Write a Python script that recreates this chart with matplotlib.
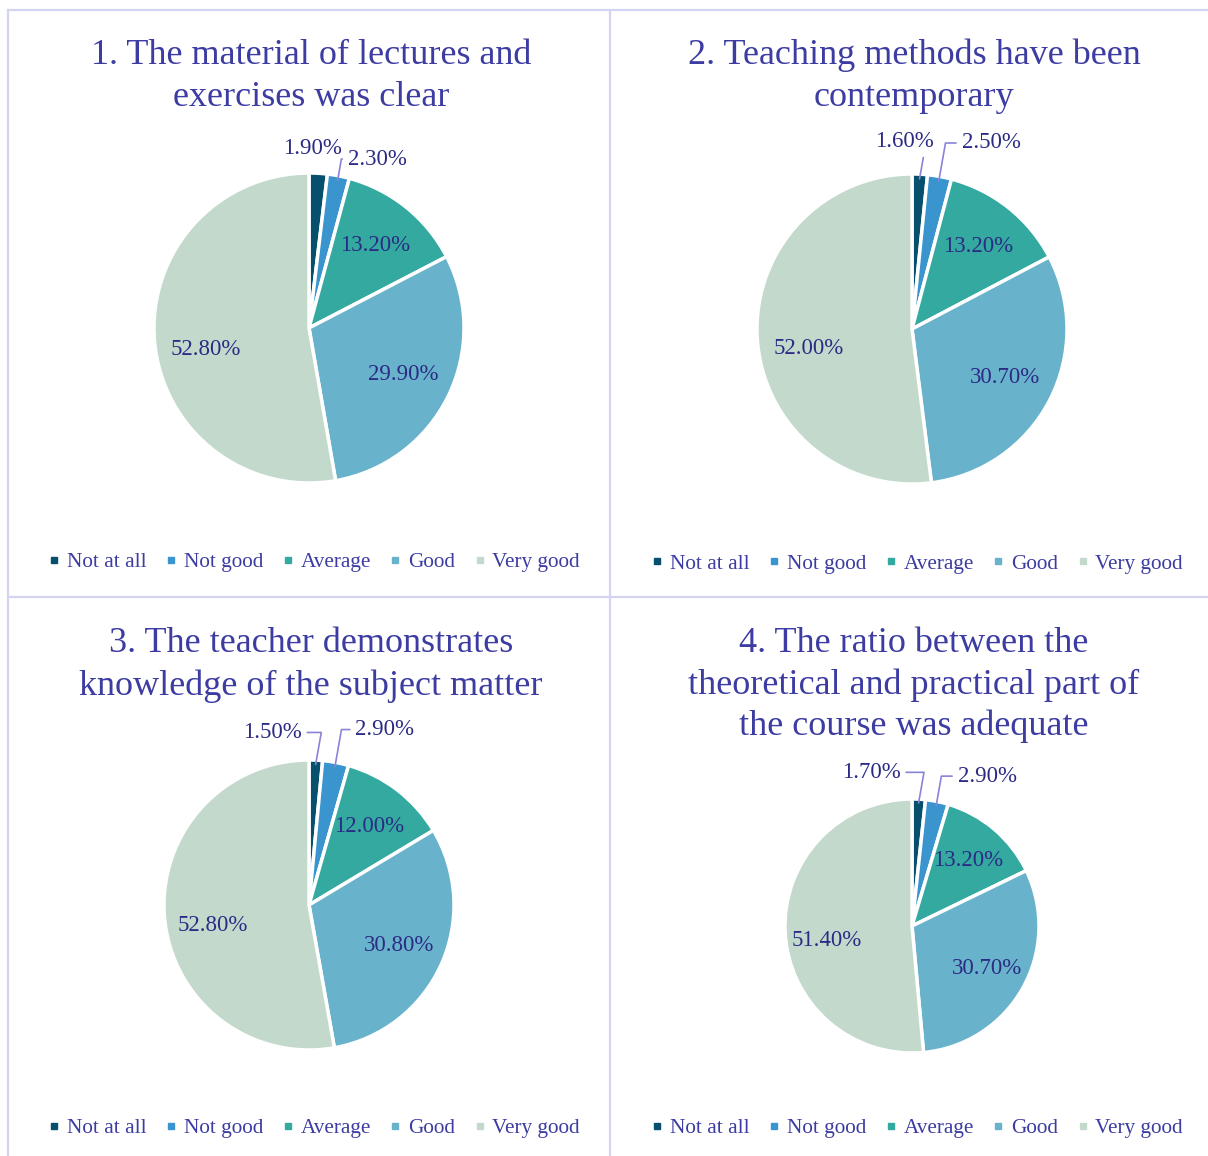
import matplotlib
matplotlib.use("Agg")
import matplotlib.pyplot as plt
from matplotlib.lines import Line2D
import numpy as np

categories = ["Not at all", "Not good", "Average", "Good", "Very good"]
colors = ["#06506E", "#3A94CE", "#34A9A0", "#68B3CB", "#C2D9CC"]

titles = [
    "1. The material of lectures and\nexercises was clear",
    "2. Teaching methods have been\ncontemporary",
    "3. The teacher demonstrates\nknowledge of the subject matter",
    "4. The ratio between the\ntheoretical and practical part of\nthe course was adequate",
]
values_q1 = [1.9, 2.3, 13.2, 29.9, 52.8]
values_q2 = [1.6, 2.5, 13.2, 30.7, 52.0]
values_q3 = [1.5, 2.9, 12.0, 30.8, 52.8]
values_q4 = [1.7, 2.9, 13.2, 30.7, 51.4]
all_values = [values_q1, values_q2, values_q3, values_q4]

W, H = 1208, 1156
DPI = 100
TITLE_C = "#3C3CA2"
LABEL_C = "#2B2B85"
LEADER_C = "#8A84D8"

plt.rcParams['font.family'] = ['Liberation Serif', 'DejaVu Serif']

fig = plt.figure(figsize=(W / DPI, H / DPI), dpi=DPI)

def fx(x):
    return x / W

def fy(y):
    return 1 - y / H

# panel layout (pixel): pie center x, center y, radius, title line y, legend y
panels = [
    dict(cx=309, cy=328, r=155, ty=[55, 97], ly=562, lx=314,
         small=[(0.02, 1.16, False), (0.50, 1.09, True)]),
    dict(cx=912, cy=329, r=155, ty=[55, 97], ly=564, lx=917,
         small=[(0.01, 1.21, True), (0.57, 1.20, True)]),
    dict(cx=309, cy=905, r=145, ty=[643, 686], ly=1128, lx=314,
         small=[(-0.30, 1.19, True), (0.57, 1.21, True)]),
    dict(cx=912, cy=926, r=127, ty=[643, 685, 726], ly=1128, lx=917,
         small=[(-0.34, 1.21, True), (0.61, 1.18, True)]),
]

# panel borders
border_c = "#D3D3F2"
for (x0, y0, x1, y1) in [(8, 10, 1208, 10), (8, 10, 8, 1156), (610, 10, 610, 1156),
                         (8, 597, 1208, 597)]:
    fig.add_artist(Line2D([fx(x0), fx(x1)], [fy(y0), fy(y1)], color=border_c, lw=1.6))

for p, vals, title in zip(panels, all_values, titles):
    aw, ah = 560, 440
    ax = fig.add_axes([fx(p['cx'] - aw / 2), fy(p['cy'] + ah / 2), aw / W, ah / H])
    wedges, _ = ax.pie(vals, colors=colors, startangle=90, counterclock=False,
                       wedgeprops=dict(edgecolor="white", linewidth=2.5))
    r = p['r']
    ax.set_xlim(-(aw / 2) / r, (aw / 2) / r)
    ax.set_ylim(-(ah / 2) / r, (ah / 2) / r)
    ax.set_aspect('auto')
    ax.axis('off')

    for i, (w, v) in enumerate(zip(wedges, vals)):
        mid = (w.theta1 + w.theta2) / 2
        lab = f"{v:.2f}%"
        if i >= 2:
            if i == 4:
                mid += 7
            ang = np.deg2rad(mid)
            d = 0.68
            ax.text(d * np.cos(ang), d * np.sin(ang), lab, ha='center', va='center',
                    fontsize=16.5, color=LABEL_C)
        else:
            ang = np.deg2rad(mid)
            tx, ty, lead = p['small'][i]
            px, py = 0.97 * np.cos(ang), 0.97 * np.sin(ang)
            if lead:
                if tx > 0:
                    ha = 'left'
                    tx_anchor = tx - 0.25
                else:
                    ha = 'right'
                    tx_anchor = tx + 0.25
                ax.annotate(lab, xy=(px, py), xytext=(tx_anchor, ty), ha=ha, va='center',
                            fontsize=16.5, color=LABEL_C,
                            arrowprops=dict(arrowstyle='-', color=LEADER_C, lw=1.2,
                                            shrinkA=2, shrinkB=0,
                                            connectionstyle='angle,angleA=0,angleB=80,rad=0'))
            else:
                ax.text(tx, ty, lab, ha='center', va='center', fontsize=16.5, color=LABEL_C)

    lines = title.split("\n")
    for line, yy in zip(lines, p['ty']):
        fig.text(fx(p['cx'] + 2), fy(yy), line, ha='center', va='center',
                 fontsize=26, color=TITLE_C)

    handles = [Line2D([], [], marker='s', linestyle='none', markersize=5,
                      markerfacecolor=c, markeredgecolor=c) for c in colors]
    fig.legend(handles, categories, loc='center', bbox_to_anchor=(fx(p['lx']), fy(p['ly'])),
               ncol=5, frameon=False, fontsize=15.3, handlelength=0.6, handletextpad=0.3,
               columnspacing=0.85, labelcolor=TITLE_C, borderpad=0)

fig.savefig("out.png", dpi=DPI)
